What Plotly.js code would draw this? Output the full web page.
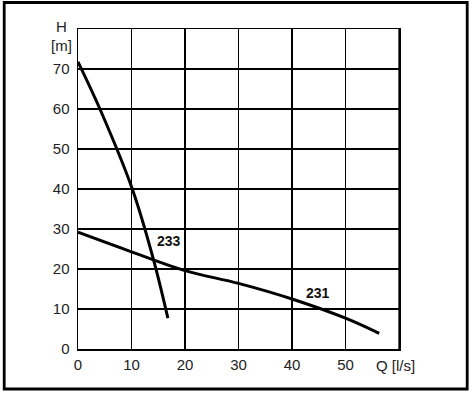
<!DOCTYPE html>
<html>
<head>
<meta charset="utf-8">
<script src="https://cdn.plot.ly/plotly-3.0.1.min.js"></script>
<style>
  html, body { margin: 0; padding: 0; background: #fff; }
  #chart { width: 474px; height: 394px; }
</style>
</head>
<body>
<div id="chart"></div>
<script>
// Pump curve 233
const q233 = [0, 4.1, 10.15, 14.1, 16.8];
const h233 = [71.8, 60, 40, 22.4, 7.7];
// Pump curve 231
const q231 = [0, 10, 20, 30, 40, 50, 56.3];
const h231 = [29.2, 24.3, 19.6, 16.4, 12.5, 7.7, 3.9];
// Curve labels
const curveNames = ["233", "231"];
const labelQ = [17.1, 44.9];
const labelH = [27.05, 14.05];
// Ticks
const xTicks = [0, 10, 20, 30, 40, 50];
const yTicks = [0, 10, 20, 30, 40, 50, 60, 70];

const W = 474, H = 394;
const L = 78, R = 399, T = 29, B = 349;
const px = x => (x - L) / (R - L);
const py = y => (B - y) / (B - T);

const lineStyle = {color: '#000', width: 3, shape: 'spline', smoothing: 1};
const traces = [
  {x: q233, y: h233, mode: 'lines', line: lineStyle, hoverinfo: 'skip'},
  {x: q231, y: h231, mode: 'lines', line: lineStyle, hoverinfo: 'skip'}
];

const font = {family: 'Liberation Sans, Arial, sans-serif', size: 15, color: '#222'};

const annotations = curveNames.map((n, i) => ({
  x: labelQ[i], y: labelH[i], xref: 'x', yref: 'y', text: '<b>' + n + '</b>',
  xanchor: 'center', yanchor: 'middle',
  showarrow: false, font: {family: font.family, size: 14, color: '#111'}
}));
const paperText = (text, cx, cy) => ({
  x: px(cx), y: py(cy), xref: 'paper', yref: 'paper', text: text,
  xanchor: 'center', yanchor: 'middle', showarrow: false, font: font
});
annotations.push(
  paperText('H', 61.7, 27),
  paperText('[m]', 61.7, 45),
  paperText('Q [l/s]', 395.5, 365.5)
);

const layout = {
  width: W, height: H,
  margin: {l: L, r: W - R, t: T, b: H - B, pad: 0},
  paper_bgcolor: '#fff', plot_bgcolor: '#fff',
  showlegend: false,
  font: font,
  xaxis: {
    range: [0, 60], tickvals: xTicks, ticktext: xTicks.map(String),
    showgrid: true, gridcolor: '#000', gridwidth: 1.3,
    showline: true, linecolor: '#000', linewidth: 1.5, mirror: true,
    zeroline: false, ticks: '', ticklabelstandoff: 1,
    tickfont: font, fixedrange: true
  },
  yaxis: {
    range: [0, 80], tickvals: yTicks, ticktext: yTicks.map(String),
    showgrid: true, gridcolor: '#000', gridwidth: 1.3,
    showline: true, linecolor: '#000', linewidth: 1.5, mirror: true,
    zeroline: false, ticks: '', ticklabelstandoff: 4,
    tickfont: font, fixedrange: true
  },
  shapes: [
    {type: 'line', xref: 'x', yref: 'paper', x0: 60, x1: 60, y0: 0, y1: 1,
     line: {color: '#000', width: 1.3}},
    {type: 'rect', xref: 'paper', yref: 'paper',
     x0: px(4.2), x1: px(467.2), y0: py(389), y1: py(2.5),
     line: {color: '#000', width: 2.8}, fillcolor: 'rgba(0,0,0,0)', layer: 'above'}
  ],
  annotations: annotations
};

Plotly.newPlot('chart', traces, layout, {staticPlot: true, displayModeBar: false});
</script>
</body>
</html>
